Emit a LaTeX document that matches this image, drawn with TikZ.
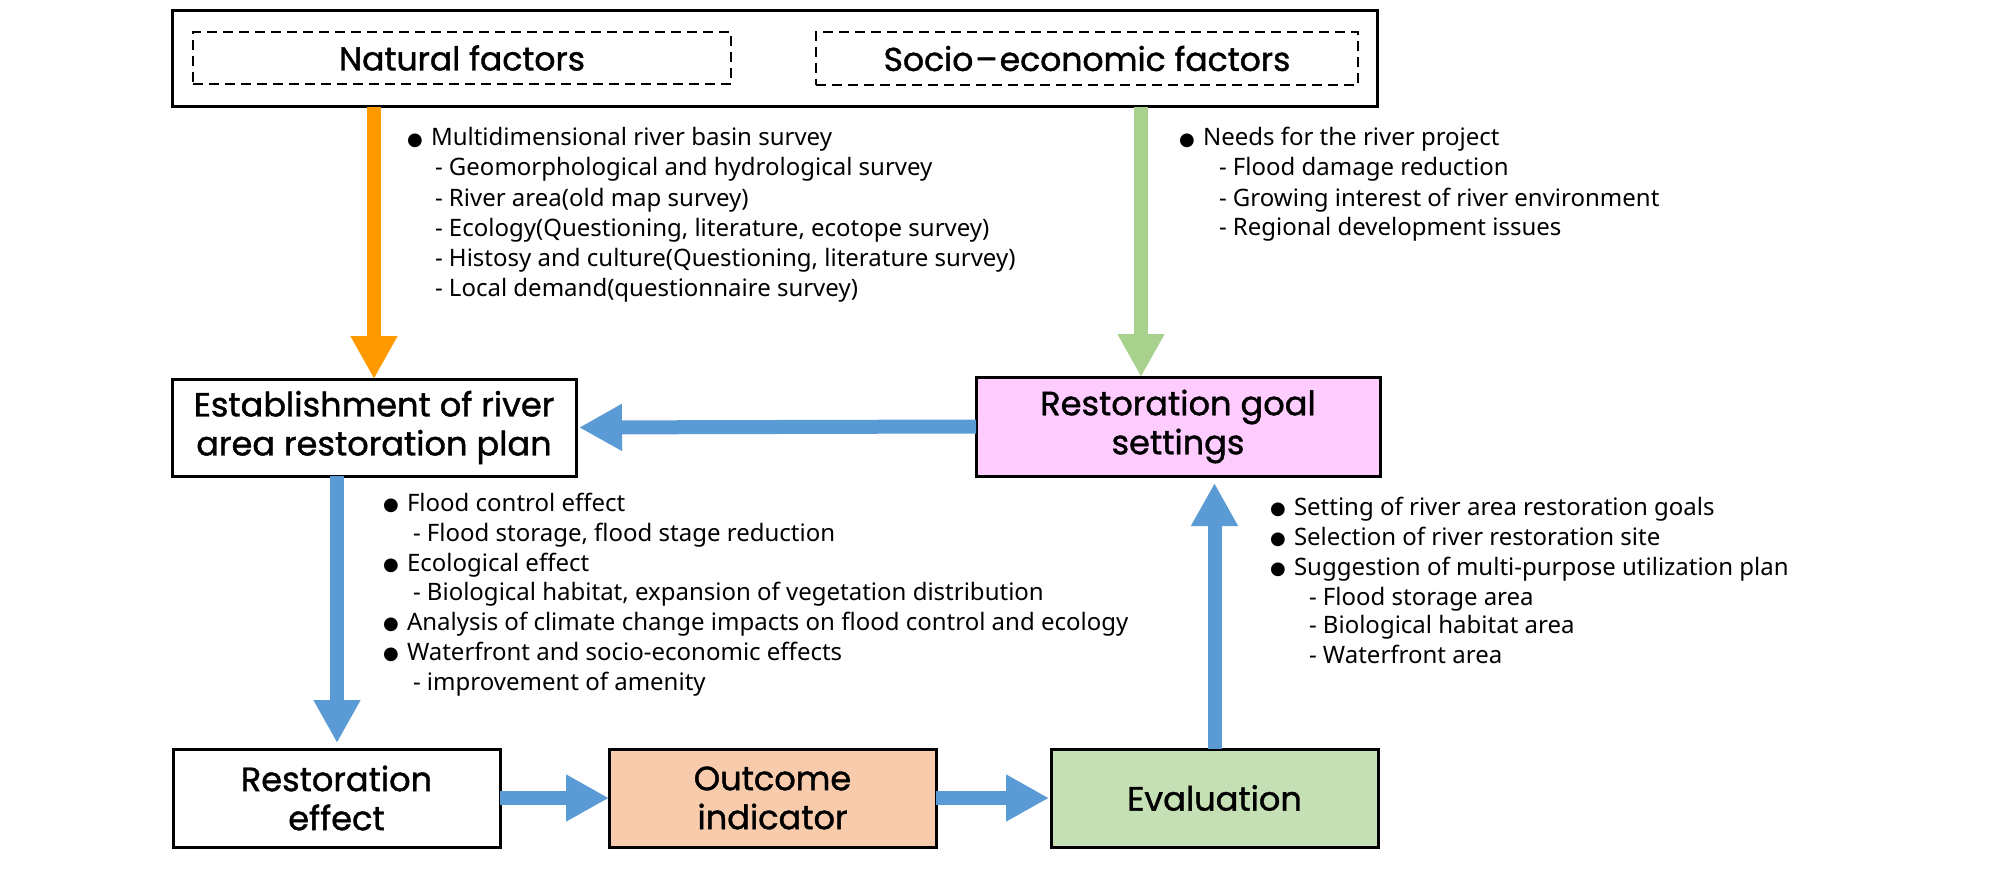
\documentclass[tikz,border=0pt]{standalone}
\usepackage{fontspec}
\setmainfont{Noto Sans}
\newfontfamily\boxfont{Poppins}[FakeBold=1.2]
\newfontfamily\symfont{DejaVu Sans}
\usetikzlibrary{arrows.meta}
\definecolor{orangeA}{RGB}{255,153,0}
\definecolor{greenA}{RGB}{169,209,142}
\definecolor{blueA}{RGB}{91,155,213}
\definecolor{pinkF}{RGB}{255,204,255}
\definecolor{peachF}{RGB}{248,203,173}
\definecolor{greenF}{RGB}{197,224,180}
\newcommand{\bul}{\makebox[12pt][l]{\raisebox{0.3pt}{\symfont\fontsize{9}{9}\selectfont ●}}}
\tikzset{
  box/.style={draw=black, line width=1.5pt, inner sep=0pt, outer sep=0pt, align=center,
    font=\boxfont\fontsize{16.8}{19.5}\selectfont},
  dbox/.style={draw=black, line width=1pt, dash pattern=on 5pt off 3pt, inner sep=0pt, outer sep=0pt,
    font=\boxfont\fontsize{16.5}{20}\selectfont},
  txt/.style={anchor=base west, inner sep=0pt, outer sep=0pt, font=\fontsize{12}{15}\selectfont},
  fatarrow/.style={line width=7pt, -{Triangle[length=21.5pt,width=22pt]}},
}
\begin{document}
\begin{tikzpicture}[x=0.5pt,y=-0.5pt]
\useasboundingbox[fill=white] (0,0) rectangle (2008,872);
% top box
\node[draw=black, line width=1.5pt, inner sep=0pt, outer sep=0pt, minimum width=602.5pt, minimum height=48pt] (outer) at (774.5,59) {};
\node[dbox, minimum width=269pt, minimum height=26pt] (nat) at (462,58) {Natural factors};
\node[dbox, minimum width=271pt, minimum height=26.5pt] (soc) at (1087,58.5) {Socio\kern1pt–\kern1pt economic factors};
% main boxes
\node[box, minimum width=202pt, minimum height=48.5pt] (est) at (374,427.5) {Establishment of river\\area restoration plan};
\node[box, fill=pinkF, minimum width=202pt, minimum height=49.5pt] (goal) at (1178,426.5) {Restoration goal\\settings};
\node[box, minimum width=163.5pt, minimum height=49pt] (re) at (336.5,798) {Restoration\\effect};
\node[box, fill=peachF, minimum width=163.5pt, minimum height=49pt] (oi) at (772.5,798) {Outcome\\indicator};
\node[box, fill=greenF, minimum width=163.5pt, minimum height=49pt] (ev) at (1214.5,798) {Evaluation};
% helper coordinates
\coordinate (gx) at (1141,0);
\coordinate (bx) at (337,0);
% arrows
\draw[fatarrow, orangeA] (outer.south -| est.north) -- (est.north);
\draw[fatarrow, greenA] (outer.south -| gx) -- (goal.north -| gx);
\draw[fatarrow, blueA, shorten >=1.5pt] (goal.west) -- (est.east);
\draw[fatarrow, blueA, shorten >=3pt] (est.south -| bx) -- (re.north -| bx);
\draw[fatarrow, blueA, shorten >=3.5pt] (ev.north) -- (goal.south -| ev.north);
\draw[fatarrow, blueA] (re.east) -- (oi.west);
\draw[fatarrow, blueA, shorten >=1pt] (oi.east) -- (ev.west);
% top-left text
\node[txt] (a1) at (407,146) {\bul Multidimensional river basin survey};
\node[txt] (a2) at (435,176) {- Geomorphological and hydrological survey};
\node[txt] (a3) at (435,206) {- River area(old map survey)};
\node[txt] (a4) at (435,236) {- Ecology(Questioning, literature, ecotope survey)};
\node[txt] (a5) at (435,266) {- Histosy and culture(Questioning, literature survey)};
\node[txt] (a6) at (435,296) {- Local demand(questionnaire survey)};
% top-right text
\node[txt] (b1) at (1179,146) {\bul Needs for the river project};
\node[txt] (b2) at (1219,176) {- Flood damage reduction};
\node[txt] (b3) at (1219,206) {- Growing interest of river environment};
\node[txt] (b4) at (1219,235) {- Regional development issues};
% middle-left text
\node[txt] (c1) at (383,511) {\bul Flood control effect};
\node[txt] (c2) at (413,541) {- Flood storage, flood stage reduction};
\node[txt] (c3) at (383,571) {\bul Ecological effect};
\node[txt] (c4) at (413,600) {- Biological habitat, expansion of vegetation distribution};
\node[txt] (c5) at (383,630) {\bul Analysis of climate change impacts on flood control and ecology};
\node[txt] (c6) at (383,660) {\bul Waterfront and socio-economic effects};
\node[txt] (c7) at (413,690) {- improvement of amenity};
% middle-right text
\node[txt] (d1) at (1270,515) {\bul Setting of river area restoration goals};
\node[txt] (d2) at (1270,545) {\bul Selection of river restoration site};
\node[txt] (d3) at (1270,575) {\bul Suggestion of multi-purpose utilization plan};
\node[txt] (d4) at (1309,605) {- Flood storage area};
\node[txt] (d5) at (1309,633) {- Biological habitat area};
\node[txt] (d6) at (1309,663) {- Waterfront area};
\end{tikzpicture}
\end{document}
